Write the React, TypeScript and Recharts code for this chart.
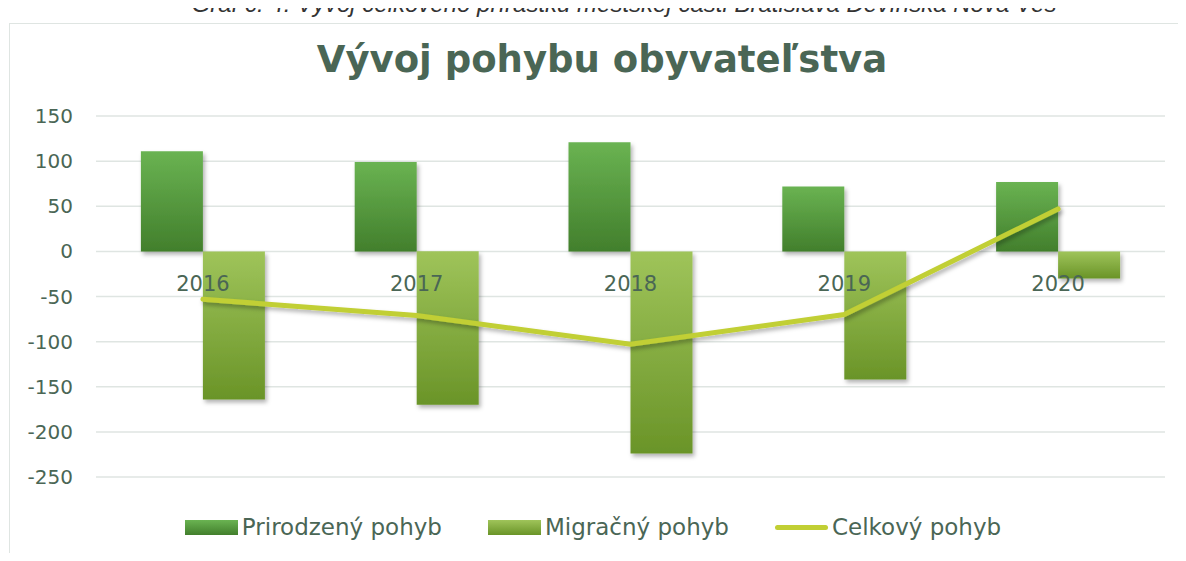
import { Bar, CartesianGrid, ComposedChart, Legend, Line, XAxis, YAxis } from "recharts"

const years = ["2016", "2017", "2018", "2019", "2020"]
const prirodzeny = [111, 99, 121, 72, 77]
const migracny = [-164, -170, -224, -142, -30]
const celkovy = [-53, -71, -103, -70, 47]
const yTicks = [-250, -200, -150, -100, -50, 0, 50, 100, 150]

const TEXT = "#4a6655"
const FONT = "'DejaVu Sans', sans-serif"
const W = 1186
const H = 561
const M_TOP = 116
const M_BOTTOM = 83
const Y_MIN = -250
const Y_MAX = 150

const data = years.map((y, i) => ({
  year: y,
  prirodzeny: prirodzeny[i],
  migracny: migracny[i],
  celkovy: celkovy[i],
}))

// y pixel of the zero line, category labels sit just under it like in Excel
const zeroY = M_TOP + ((Y_MAX - 0) / (Y_MAX - Y_MIN)) * (H - M_TOP - M_BOTTOM - 1)

const renderYearTick = (props: any) => {
  const { x, payload } = props
  return (
    <text x={x} y={zeroY + 40} textAnchor="middle" fill={TEXT} fontSize={21} fontFamily={FONT}>
      {payload.value}
    </text>
  )
}

function LegendContent() {
  const items = [
    { name: "Prirodzený pohyb", bg: "linear-gradient(#6ab352, #427f2c)", line: false },
    { name: "Migračný pohyb", bg: "linear-gradient(#9fc45a, #6a9428)", line: false },
    { name: "Celkový pohyb", bg: "#c1cf34", line: true },
  ]
  return (
    <div style={{ display: "flex", justifyContent: "center", gap: 46, fontFamily: FONT, fontSize: 23, color: TEXT }}>
      {items.map((it) => (
        <div key={it.name} style={{ display: "flex", alignItems: "center", gap: 4 }}>
          <span
            style={{
              display: "inline-block",
              width: 53,
              height: it.line ? 5 : 15,
              borderRadius: it.line ? 3 : 0,
              background: it.bg,
            }}
          />
          <span>{it.name}</span>
        </div>
      ))}
    </div>
  )
}

export default function App() {
  return (
    <div style={{ position: "relative", width: W, height: H, margin: -8, overflow: "hidden", background: "#fff" }}>
      <div
        style={{
          position: "absolute",
          top: -8,
          left: 0,
          width: 1248,
          textAlign: "center",
          fontFamily: "'Liberation Sans', Arial, sans-serif",
          fontStyle: "italic",
          fontSize: 24,
          lineHeight: "24px",
          color: "#333",
          whiteSpace: "nowrap",
        }}
      >
        Graf č. 4: Vývoj celkového prírastku mestskej časti Bratislava Devínska Nová Ves
      </div>
      <div
        style={{
          position: "absolute",
          top: 23,
          left: 9,
          width: W,
          height: H,
          borderTop: "1.5px solid #dfe5e2",
          borderLeft: "1.5px solid #dfe5e2",
        }}
      />
      <div
        style={{
          position: "absolute",
          top: 38,
          left: 0,
          width: 1204,
          textAlign: "center",
          fontFamily: FONT,
          fontWeight: "bold",
          fontSize: 37,
          color: TEXT,
        }}
      >
        Vývoj pohybu obyvateľstva
      </div>
      <div style={{ position: "absolute", top: 0, left: 0 }}>
        <ComposedChart
          width={W}
          height={H}
          data={data}
          margin={{ top: M_TOP, right: 21, bottom: M_BOTTOM, left: 0 }}
          barCategoryGap="21%"
          barGap={0}
        >
          <defs>
            <linearGradient id="gPrir" x1="0" y1="0" x2="0" y2="1">
              <stop offset="0%" stopColor="#6ab352" />
              <stop offset="100%" stopColor="#427f2c" />
            </linearGradient>
            <linearGradient id="gMigr" x1="0" y1="0" x2="0" y2="1">
              <stop offset="0%" stopColor="#9fc45a" />
              <stop offset="100%" stopColor="#6a9428" />
            </linearGradient>
            <filter id="shadow" x="-20%" y="-20%" width="150%" height="150%">
              <feDropShadow dx="2" dy="3" stdDeviation="2" floodColor="#000" floodOpacity="0.3" />
            </filter>
          </defs>
          <CartesianGrid vertical={false} stroke="#dfe5e2" strokeWidth={1.5} />
          <XAxis dataKey="year" axisLine={false} tickLine={false} height={1} tick={renderYearTick} interval={0} />
          <YAxis
            width={96}
            domain={[Y_MIN, Y_MAX]}
            ticks={yTicks}
            interval={0}
            axisLine={false}
            tickLine={false}
            tickMargin={17}
            tick={{ fill: TEXT, fontSize: 20, fontFamily: FONT }}
          />
          <Legend
            verticalAlign="middle"
            align="center"
            layout="horizontal"
            wrapperStyle={{ top: 514, left: 0, width: W }}
            content={<LegendContent />}
          />
          <Bar dataKey="prirodzeny" name="Prirodzený pohyb" fill="url(#gPrir)" filter="url(#shadow)" isAnimationActive={false} />
          <Bar dataKey="migracny" name="Migračný pohyb" fill="url(#gMigr)" filter="url(#shadow)" isAnimationActive={false} />
          <Line
            dataKey="celkovy"
            name="Celkový pohyb"
            type="linear"
            stroke="#c1cf34"
            strokeWidth={5}
            strokeLinecap="round"
            dot={false}
            filter="url(#shadow)"
            isAnimationActive={false}
          />
        </ComposedChart>
      </div>
    </div>
  )
}
